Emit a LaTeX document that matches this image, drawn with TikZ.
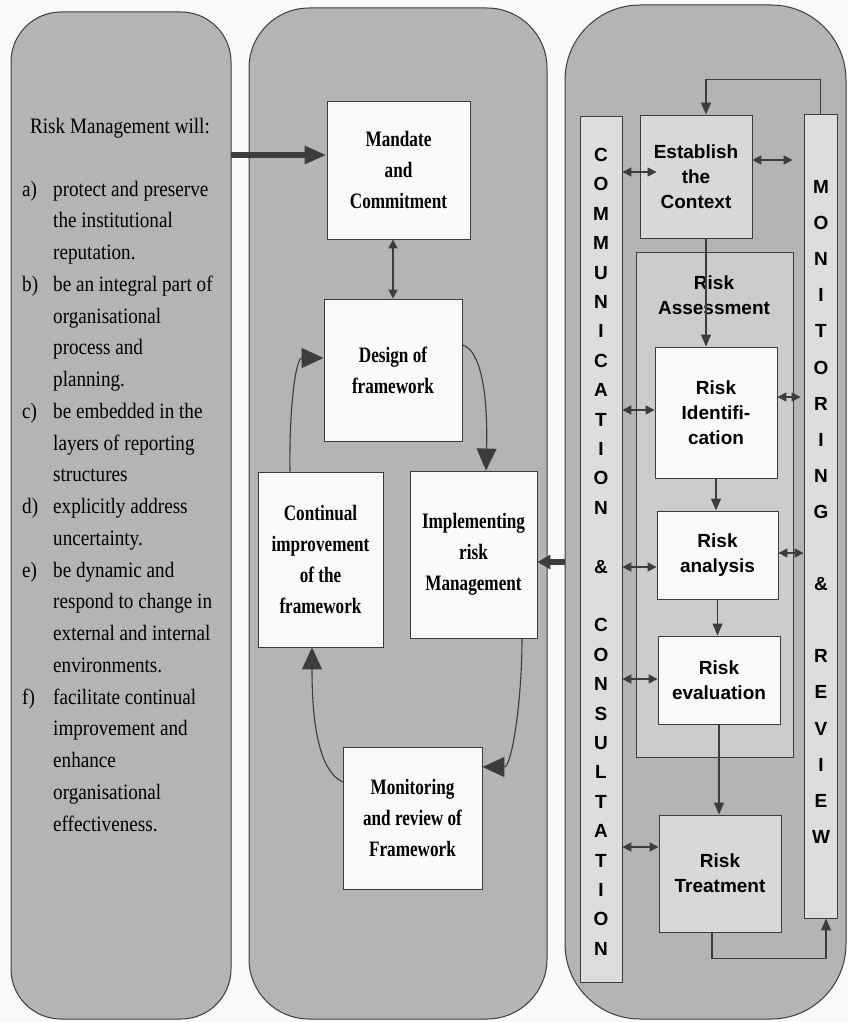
\documentclass[tikz,border=0pt]{standalone}
\usepackage{fontspec}
\setmainfont{Liberation Serif}
\newfontfamily\listfont[FakeStretch=0.87]{Liberation Serif}
\newfontfamily\fwfont[FakeStretch=0.78]{Liberation Serif}
\newfontfamily\procfont{Liberation Sans}
\usetikzlibrary{arrows.meta}

\definecolor{panelgray}{RGB}{181,179,181}
\definecolor{bargray}{RGB}{222,220,222}
\definecolor{boxgray}{RGB}{217,215,217}
\definecolor{assessgray}{RGB}{205,203,205}
\definecolor{paper}{RGB}{252,249,252}
\definecolor{inkgray}{RGB}{60,60,60}

\tikzset{
  panel/.style={draw=inkgray, fill=panelgray, line width=1pt},
  bar/.style={draw=inkgray, fill=bargray, line width=0.9pt, inner sep=0pt},
  fwbox/.style={draw=inkgray, fill=paper, line width=0.9pt, inner sep=0pt, align=center,
    font=\fwfont\bfseries\fontsize{22}{31}\selectfont},
  procbox/.style={draw=inkgray, fill=boxgray, line width=0.9pt, inner sep=0pt, align=center,
    font=\procfont\bfseries\fontsize{19}{25}\selectfont},
  listtext/.style={inner sep=0pt, font=\listfont\fontsize{22}{31.75}\selectfont},
  letter/.style={inner sep=0pt, font=\procfont\bfseries\fontsize{19}{19}\selectfont},
  bigtip/.style={-{Triangle[length=22pt,width=20pt]}, line width=1.1pt, draw=inkgray, fill=none},
  flow/.style={-{Triangle[length=12pt,width=10pt]}, line width=1.2pt, draw=inkgray},
  twoway/.style={{Triangle[length=9pt,width=9pt]}-{Triangle[length=9pt,width=9pt]}, line width=1.6pt, draw=inkgray},
  thickarrow/.style={line width=6pt, draw=inkgray}
}

\newcommand{\rmpanel}[3]{\draw[panel, rounded corners=#3] (#1) rectangle (#2);}
\newcommand{\fwnode}[4][]{\node at (#2) (#3) [fwbox,#1] {#4};}
\newcommand{\procnode}[4][]{\node at (#2) (#3) [procbox,#1] {#4};}
\newcommand{\fwcurve}[4]{\draw [bigtip] (#1) .. controls (#2) and (#3) .. (#4);}
\newcommand{\twoway}[3][]{\draw [twoway,#1] (#2) -- (#3);}

\begin{document}
\begin{tikzpicture}[x=1pt,y=-1pt]
\useasboundingbox (0,0) rectangle (848,1022);
\fill[paper] (0,0) rectangle (848,1022);

% three panels
\rmpanel{11,12}{231,1019}{50}
\rmpanel{249,8}{547,1019}{60}
\rmpanel{565,5}{846,1019}{75}

% left panel
\node at (120,128) (rmhead) [listtext] {Risk Management will:};
\node at (22,196) (rmlist) [listtext, anchor=base west] {%
\begin{tabular}[t]{@{}p{31pt}@{}l@{}}
a) & protect and preserve\\
   & the institutional\\
   & reputation.\\
b) & be an integral part of\\
   & organisational\\
   & process and\\
   & planning.\\
c) & be embedded in the\\
   & layers of reporting\\
   & structures\\
d) & explicitly address\\
   & uncertainty.\\
e) & be dynamic and\\
   & respond to change in\\
   & external and internal\\
   & environments.\\
f) & facilitate continual\\
   & improvement and\\
   & enhance\\
   & organisational\\
   & effectiveness.
\end{tabular}};

% framework cycle
\fwnode[minimum width=143, minimum height=138]{398.5,170}{mandate}{Mandate\\and\\Commitment}
\fwnode[minimum width=138, minimum height=142]{393,370}{design}{Design of\\framework}
\fwnode[minimum width=125, minimum height=175]{320.5,559.5}{continual}{Continual\\improvement\\of the\\framework}
\fwnode[minimum width=127, minimum height=167]{473.5,554.5}{implement}{Implementing\\risk\\Management}
\fwnode[minimum width=139, minimum height=142]{412.5,818}{review}{Monitoring\\and review of\\Framework}

\twoway{design.north |- mandate.south}{design.north}
\fwcurve{design.east |- 0,345}{481,350}{488,395}{implement.north -| 486,0}
\fwcurve{implement.south -| 522,0}{522,700}{512,767}{review.east |- 0,767}
\fwcurve{review.west |- 0,782}{318,770}{312,720}{continual.south -| 312,0}
\fwcurve{continual.north -| 290,0}{289,405}{296,358}{design.west |- 0,358}

% links between panels
\coordinate (leftedge) at (231,155);
\coordinate (rightedge) at (565,562);
\draw [thickarrow, -{Triangle[length=22pt,width=17pt]}] (leftedge) -- (mandate.west |- leftedge);
\draw [thickarrow, -{Triangle[length=13pt,width=14pt]}] (rightedge) -- (implement.east |- rightedge);

% process panel
\node at (601,549) (commbar) [bar, minimum width=42, minimum height=866] {};
\node at (820.5,516) (monbar) [bar, minimum width=33, minimum height=804] {};
\foreach \ch [count=\i from 0] in {C,O,M,M,U,N,I,C,A,T,I,O,N}
  \node at (601,155+29.4*\i) (comm\i) [letter] {\ch};
\node at (601,155+29.4*14) (commamp) [letter] {\&};
\foreach \ch [count=\i from 16] in {C,O,N,S,U,L,T,A,T,I,O,N}
  \node at (601,155+29.4*\i) (comm\i) [letter] {\ch};
\foreach \ch [count=\i from 0] in {M,O,N,I,T,O,R,I,N,G}
  \node at (821,187+36.1*\i) (mon\i) [letter] {\ch};
\node at (821,187+36.1*11) (monamp) [letter] {\&};
\foreach \ch [count=\i from 13] in {R,E,V,I,E,W}
  \node at (821,187+36.1*\i) (mon\i) [letter] {\ch};

\procnode[minimum width=112, minimum height=123]{696,176.5}{context}{Establish\\the\\Context}
\node at (714.5,504.5) (assess) [procbox, fill=assessgray, minimum width=157, minimum height=505] {};
\node at (714,295) (assesslabel) [procbox, draw=none, fill=none] {Risk\\Assessment};
\procnode[minimum width=122, minimum height=131, fill=paper]{716,412.5}{identify}{Risk\\Identifi-\\cation}
\procnode[minimum width=121, minimum height=88, fill=paper]{717.5,555}{analysis}{Risk\\analysis}
\procnode[minimum width=122, minimum height=88, fill=paper]{719,680}{evaluate}{Risk\\evaluation}
\procnode[minimum width=122, minimum height=117]{720,873.5}{treat}{Risk\\Treatment}

\draw [flow] (monbar.north) -- ++(0,-34) -| (context.north -| 706,0);
\draw [flow] (context.south -| 706,0) -- (identify.north -| 706,0);
\draw [flow] (identify.south) -- (analysis.north -| identify.south);
\draw [flow] (analysis.south) -- (evaluate.north -| analysis.south);
\draw [flow] (evaluate.south) -- (treat.north -| evaluate.south);
\draw [flow] (treat.south -| 712,0) -- ++(0,26) -| (monbar.south -| 826,0);

\twoway[shorten >=-17pt]{commbar.east |- 0,172}{context.west |- 0,172}
\twoway[shorten >=11pt]{context.east |- 0,160}{monbar.west |- 0,160}
\twoway{commbar.east |- 0,410}{identify.west |- 0,410}
\twoway[shorten >=3pt]{identify.east |- 0,397}{monbar.west |- 0,397}
\twoway{commbar.east |- 0,567}{analysis.west |- 0,567}
\twoway{analysis.east |- 0,553}{monbar.west |- 0,553}
\twoway{commbar.east |- 0,679}{evaluate.west |- 0,679}
\twoway{commbar.east |- 0,847}{treat.west |- 0,847}
\end{tikzpicture}
\end{document}
